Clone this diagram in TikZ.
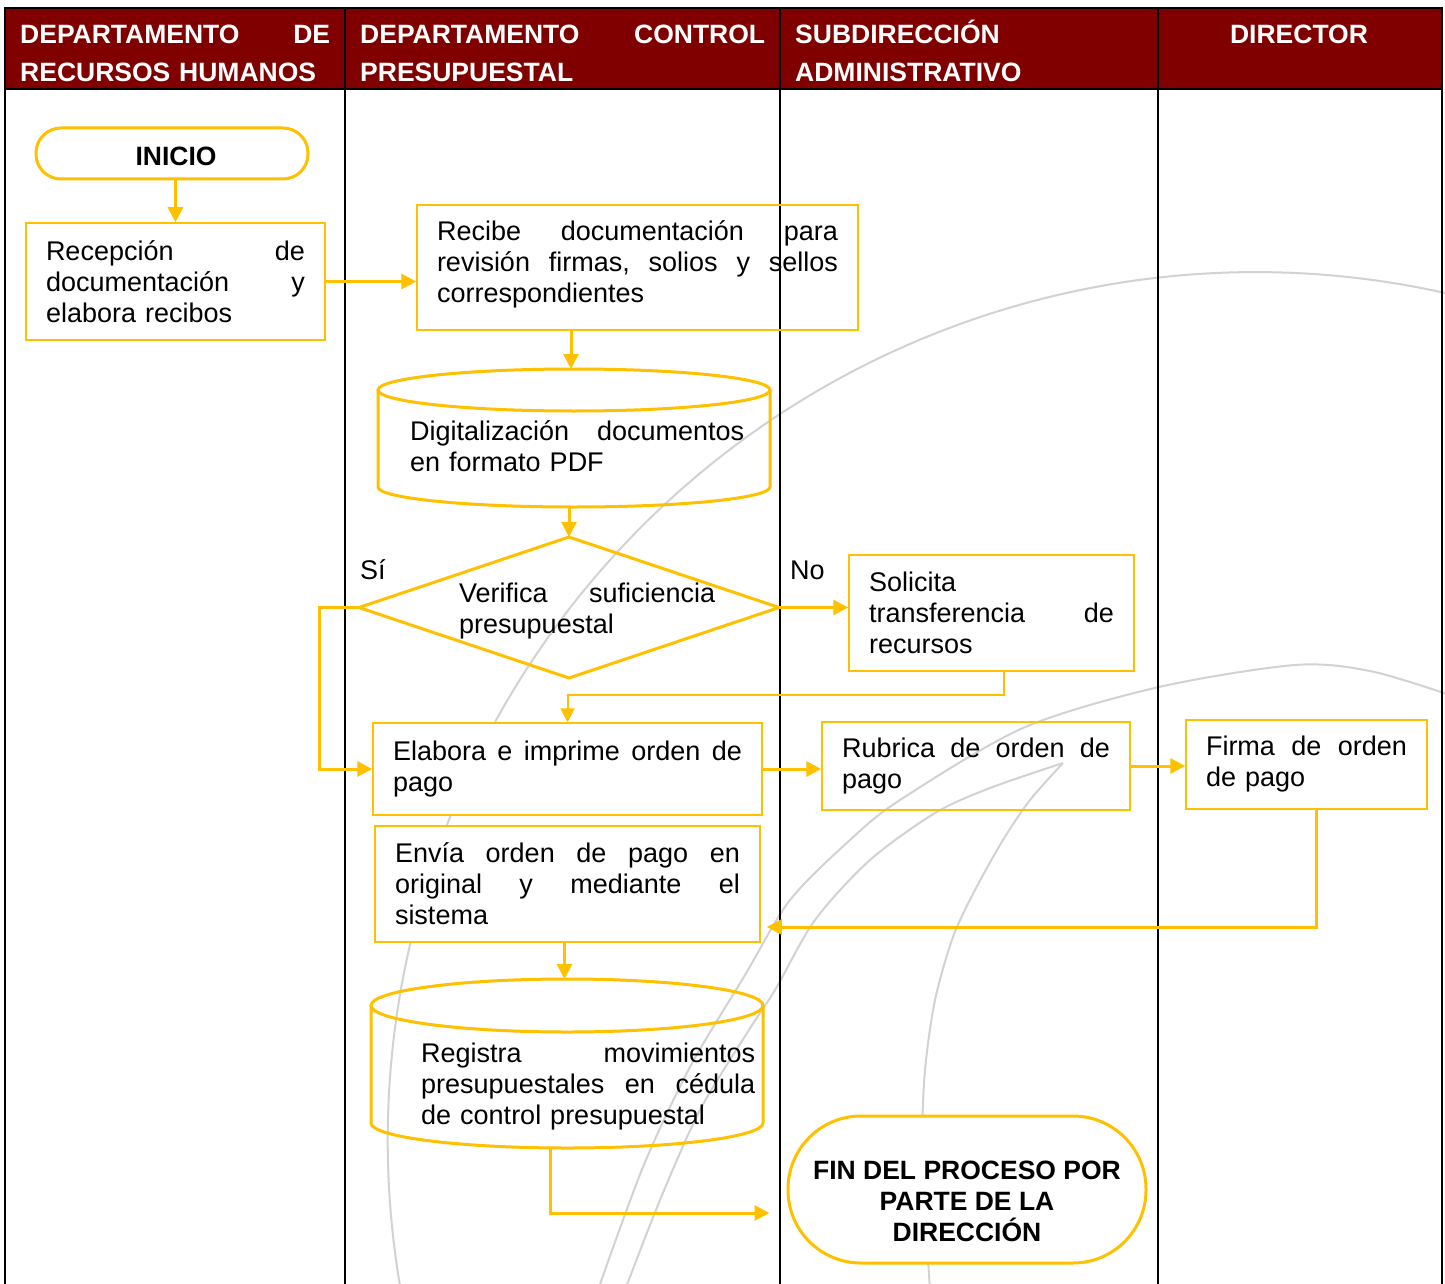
\documentclass[tikz,border=0pt]{standalone}
\usepackage{fontspec}
\setmainfont{Liberation Sans}
\usetikzlibrary{arrows.meta,shapes.geometric,calc}
\definecolor{hdr}{HTML}{800000}
\definecolor{ylw}{HTML}{FFC000}
\definecolor{wmk}{HTML}{D2D2D2}
\newcommand\bodyf{\fontsize{27pt}{31pt}\selectfont}
\newcommand\hdrf{\fontsize{26.5pt}{38pt}\selectfont\bfseries}
\newcommand\termf{\fontsize{26.5pt}{31pt}\selectfont\bfseries}
\newcommand\jl[2]{\leavevmode\hbox to #1pt{#2}}
\newcommand\gap{\hfill}
\tikzset{
  box/.style={draw=ylw, line width=1.5pt, rectangle, inner xsep=20pt, inner ysep=0pt, align=left, font=\bodyf, text=black},
  term/.style={draw=ylw, line width=3pt, rectangle, align=center, font=\termf, fill=white, inner sep=0pt},
  arr/.style={draw=ylw, line width=3pt, -{Triangle[length=15pt,width=15pt]}},
  arrthin/.style={draw=ylw, line width=2pt, -{Triangle[length=14pt,width=14pt]}},
  shapeline/.style={draw=ylw, line width=3pt},
  hdrtxt/.style={text=white, font=\hdrf, inner sep=0pt, align=left, anchor=base west},
  txt/.style={font=\bodyf, inner sep=0pt, align=left, anchor=base west},
  wm/.style={draw=wmk, line width=2pt},
  lane/.style={draw=black, line width=2.2pt},
  cylnode/.style={rectangle, draw=none, inner sep=0pt, outer sep=0pt, minimum width=392pt}
}
\begin{document}
\begin{tikzpicture}[x=1pt,y=-1pt]
\useasboundingbox (0,0) rectangle (1445,1284);
\fill[white] (0,0) rectangle (1445,1284);

% watermark
\begin{scope}
\clip (0,0) rectangle (1445,1284);
\draw[wm] (1445,293) arc[start angle=-77.4, end angle=-189.6, radius=868];
\draw[wm] plot[smooth] coordinates {(1450,695) (1370,671) (1295,665) (1159,687) (1023,728) (900,800) (850,840) (790,900) (745,975) (690,1067) (643,1167) (598,1290)};
\draw[wm] plot[smooth] coordinates {(1063,763) (990,788) (935,813) (870,860) (815,920) (775,990) (747,1033) (700,1110) (660,1200) (625,1290)};
\draw[wm] plot[smooth] coordinates {(1063,763) (1030,800) (1003,840) (975,890) (953,937) (935,1000) (925,1070) (922,1143) (925,1210) (930,1290)};
\end{scope}

% header and lanes
\fill[hdr] (5,8) rectangle (1442,89);
\draw[lane] (5,1284) -- (5,8) -- (1442,8) -- (1442,1284);
\draw[lane] (5,89) -- (1442,89);
\draw[lane] (345,8) -- (345,1284);
\draw[lane] (780,8) -- (780,1284);
\draw[lane] (1158,8) -- (1158,1284);

\node[hdrtxt, text width=310pt] (h1) at (20,44) {\jl{310}{DEPARTAMENTO\gap DE}\\RECURSOS HUMANOS};
\node[hdrtxt, text width=405pt] (h2) at (360,44) {\jl{405}{DEPARTAMENTO\gap CONTROL}\\PRESUPUESTAL};
\node[hdrtxt, text width=350pt] (h3) at (795,44) {SUBDIRECCIÓN\\ADMINISTRATIVO};
\node[hdrtxt, anchor=base] (h4) at (1299,44) {DIRECTOR};

% nodes
\node[term, minimum width=272pt, minimum height=51pt, rounded corners=25pt] (ini) at (172,153.5) {\hspace*{8pt}\rule{0pt}{25pt}INICIO};
\node[box, text width=259pt, minimum height=117pt] (rec) at (175.5,281.5)
  {\jl{259}{Recepción\gap de}\\\jl{259}{documentación\gap y}\\elabora recibos};
\node[box, text width=401pt, minimum height=125pt] (rcb) at (637.5,267.5)
  {\jl{401}{Recibe\gap documentación\gap para}\\\jl{401}{revisión\gap firmas,\gap solios\gap y\gap sellos}\\correspondientes\rule[-12pt]{0pt}{0pt}};

\node[cylnode, minimum height=138pt] (cylA) at (574,438) {};
\draw[shapeline] ($(cylA.north)+(0,21)$) ellipse[x radius=196, y radius=21];
\draw[shapeline] ($(cylA.north west)+(0,21)$) -- ($(cylA.south west)+(0,-20)$) arc[start angle=180, end angle=0, x radius=196, y radius=20] -- ($(cylA.north east)+(0,21)$);
\node[txt, text width=334pt] (cylAt) at (410,440) {\jl{334}{Digitalización\gap documentos}\\en formato PDF};

\node[draw=ylw, line width=3pt, diamond, minimum width=420pt, minimum height=141pt, inner sep=0pt, outer sep=0pt] (dec) at (569,607.5) {};
\node[txt, text width=256pt] (dect) at (459,602) {\jl{256}{Verifica\gap suficiencia}\\presupuestal};
\node[txt] (si) at (360,579) {Sí};
\node[txt] (no) at (790,579) {No};

\node[box, text width=245pt, minimum height=116pt] (sol) at (991.5,613)
  {Solicita\\\jl{245}{transferencia\gap de}\\recursos};
\node[box, text width=349pt, minimum height=92pt, fill=white] (ela) at (567.5,769)
  {\jl{349}{Elabora\gap e\gap imprime\gap orden\gap de}\\pago};
\node[box, text width=268pt, minimum height=88pt] (rub) at (976,766)
  {\jl{268}{Rubrica\gap de\gap orden\gap de}\\pago};
\node[box, text width=201pt, minimum height=89pt] (fir) at (1306.5,764.5)
  {\jl{201}{Firma\gap de\gap orden}\\de pago};
\node[box, text width=345pt, minimum height=116pt, fill=white] (env) at (567.5,884)
  {\jl{345}{Envía\gap orden\gap de\gap pago\gap en}\\\jl{345}{original\gap y\gap mediante\gap el}\\sistema};

\node[cylnode, minimum height=169pt] (cylB) at (567,1063.5) {};
\draw[shapeline] ($(cylB.north)+(0,26.5)$) ellipse[x radius=196, y radius=26.5];
\draw[shapeline] ($(cylB.north west)+(0,26.5)$) -- ($(cylB.south west)+(0,-25)$) arc[start angle=180, end angle=0, x radius=196, y radius=25] -- ($(cylB.north east)+(0,26.5)$);
\node[txt, text width=334pt] (cylBt) at (421,1062) {\jl{334}{Registra\gap movimientos}\\\jl{334}{presupuestales\gap en\gap cédula}\\de control presupuestal};

\node[term, minimum width=358pt, minimum height=147pt, rounded corners=73pt] (fin) at (967,1189.5)
  {\rule{0pt}{42pt}FIN DEL PROCESO POR\\PARTE DE LA\\DIRECCIÓN};

% connectors
\coordinate (envin) at ($(env.east)+(6,43)$);
\coordinate (finin) at ($(fin.west)+(-17,23.5)$);
\draw[arr] (rec.north |- ini.south) -- (rec.north);
\draw[arr] (rec.east) -- (rec.east -| rcb.west);
\draw[arr] ($(cylA.north |- rcb.south)+(-3,0)$) -- ($(cylA.north)+(-3,0)$);
\draw[arr] (dec.north |- cylA.south) -- (dec.north);
\draw[arr] (dec.east) -- (dec.east -| sol.west);
\draw[arr] (dec.west) -- ++(-40,0) |- (ela.west);
\draw[arrthin] ($(sol.south)+(12.5,0)$) |- ($(ela.north)+(0,-27)$) -- (ela.north);
\draw[arr] (ela.east) -- (ela.east -| rub.west);
\draw[arr] (rub.east) -- ($(rub.east -| fir.west)+(0,0)$);
\draw[arr] ($(fir.south)+(10,0)$) |- (envin);
\draw[arr] ($(env.south)+(-3,0)$) -- ($(env.south |- cylB.north)+(-3,0)$);
\draw[arr] ($(cylB.south)+(-17,0)$) |- (finin);
\end{tikzpicture}
\end{document}
